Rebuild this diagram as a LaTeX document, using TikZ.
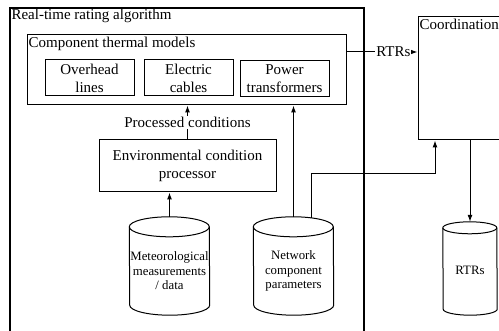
\documentclass[tikz,border=0pt]{standalone}
\usepackage{fontspec}
\setmainfont{Liberation Serif}
\usetikzlibrary{arrows.meta}

\begin{document}
\begin{tikzpicture}[
    x=1pt, y=-1pt,
    frame/.style={rectangle, draw, line width=1.3pt},
    block/.style={rectangle, draw, line width=1pt, align=center, inner sep=2pt, font=\fontsize{15}{18}\selectfont},
    store/.style={rectangle, minimum width=80pt, minimum height=108pt, inner sep=0pt, align=center, font=\fontsize{12.8}{14.5}\selectfont},
    drum/.style={line width=1pt},
    title/.style={anchor=north west, inner sep=2pt, font=\fontsize{15}{18}\selectfont},
    line/.style={-{Latex[length=7pt,width=5pt]}, line width=1pt},
    tag/.style={fill=white, inner sep=1pt, font=\fontsize{15}{18}\selectfont}
]
\useasboundingbox (0,0) rectangle (499,331);
\clip (0,0) rectangle (499,331);

% Cadres
\node[frame, minimum width=354pt, minimum height=400pt] (rta) at (187,208) {};
\node[title] (rtatitle) at (rta.north west) {Real-time rating algorithm};
\node[frame, line width=1pt, minimum width=160pt, minimum height=123pt] (coord) at (498,78.5) {};
\node[title] (coordtitle) at (coord.north west) {Coordination};

% Modèles
\node[block, minimum width=319pt, minimum height=70pt] (thermal) at (186.5,70) {};
\node[title] (thermaltitle) at (thermal.north west) {Component thermal models};
\node[block, minimum width=89pt, minimum height=36pt] (ohl) at (89.5,78) {Overhead\\lines};
\node[block, minimum width=89pt, minimum height=36pt] (cable) at (188.5,78) {Electric\\cables};
\node[block, minimum width=89pt, minimum height=36pt] (trans) at (284.5,79) {Power\\transformers};
\node[block, minimum width=177pt, minimum height=52pt] (env) at (187.5,166) {Environmental condition\\processor};

% Données
\node[store] (metdb) at (169.5,271) {Meteorological\\measurements\\/ data};
\node[store] (netdb) at (293.5,271) {Network\\component\\parameters};
\node[store, minimum width=54pt, minimum height=96pt] (rtrdb) at (470,270) {RTRs};
\foreach \db/\w/\r/\b in {metdb/40/10/10, netdb/40/10/10, rtrdb/27/6/3} {
  \draw[drum] ([yshift=-\r pt]\db.north west)
      arc[start angle=180, end angle=360, x radius=\w, y radius=\r]
      -- ([yshift=\b pt+\r pt]\db.south east)
      arc[start angle=0, end angle=180, x radius=\w, y radius=\r] -- cycle;
  \draw[drum] ([yshift=-\r pt]\db.north west)
      arc[start angle=180, end angle=0, x radius=\w, y radius=\r];
}

% Flux
\draw[line] (env.north) -- node[tag] {Processed conditions} (env.north |- thermal.south);
\draw[line] (metdb.north) -- (metdb.north |- env.south);
\draw[line] (netdb.north) -- (netdb.north |- thermal.south);
\draw[line] ([xshift=18pt,yshift=-1pt]netdb.north) -- ++(0,-44) -| ([xshift=-63pt]coord.south);
\draw[line] (coord.south -| rtrdb.north) -- (rtrdb.north);
\draw[line] ([yshift=18pt]thermal.east) -- node[tag, pos=0.66] {RTRs} ([yshift=18pt]thermal.east -| coord.west);

\end{tikzpicture}
\end{document}
